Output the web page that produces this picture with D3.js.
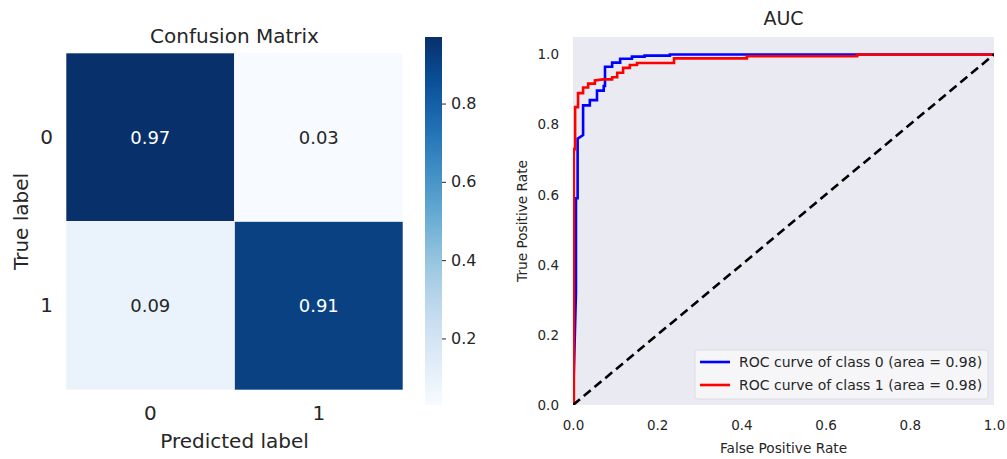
<!DOCTYPE html>
<html>
<head>
<meta charset="utf-8">
<script src="https://cdn.jsdelivr.net/npm/d3@7"></script>
<style>
  body { margin: 0; background: #fff; }
  svg { font-family: "DejaVu Sans", sans-serif; }
</style>
</head>
<body>
<svg id="fig" width="1007" height="459"></svg>
<script>
// confusion matrix (rows = true label, cols = predicted label)
const classes = ["0", "1"];
const matrix = [[0.97, 0.03], [0.09, 0.91]];
const cbarTicks = [0.2, 0.4, 0.6, 0.8];

// ROC curves
const fpr0 = [0, 0.007, 0.007, 0.011, 0.011, 0.024, 0.024, 0.04, 0.04, 0.057, 0.057, 0.073, 0.073, 0.076, 0.076, 0.093, 0.093, 0.112, 0.112, 0.14, 0.14, 0.17, 0.17, 0.23, 0.23, 1.0];
const tpr0 = [0, 0.32, 0.59, 0.59, 0.76, 0.77, 0.855, 0.855, 0.87, 0.87, 0.897, 0.897, 0.91, 0.91, 0.965, 0.965, 0.977, 0.977, 0.988, 0.988, 0.994, 0.994, 0.997, 0.997, 1.0, 1.0];
const fpr1 = [0, 0.002, 0.002, 0.005, 0.005, 0.012, 0.012, 0.024, 0.024, 0.036, 0.036, 0.052, 0.052, 0.071, 0.093, 0.093, 0.105, 0.105, 0.119, 0.119, 0.135, 0.135, 0.152, 0.152, 0.24, 0.24, 0.413, 0.413, 0.675, 0.675, 1.0];
const tpr1 = [0, 0, 0.73, 0.73, 0.85, 0.85, 0.89, 0.89, 0.906, 0.906, 0.917, 0.917, 0.926, 0.929, 0.929, 0.935, 0.935, 0.948, 0.948, 0.962, 0.962, 0.97, 0.97, 0.976, 0.976, 0.989, 0.989, 0.995, 0.995, 1.0, 1.0];
const rocLabels = ["ROC curve of class 0 (area = 0.98)", "ROC curve of class 1 (area = 0.98)"];
const rocColors = ["#0000ff", "#ff0000"];
const rocTicks = [0, 0.2, 0.4, 0.6, 0.8, 1.0];

const svg = d3.select("#fig");
const textColor = "#262626";

// ---------- confusion matrix ----------
const hm = {left: 66, top: 53, size: 337};
const cells = [];
matrix.forEach((row, i) => row.forEach((v, j) => cells.push({row: i, col: j, value: v})));
const vmin = d3.min(cells, d => d.value), vmax = d3.max(cells, d => d.value);

const xband = d3.scaleBand().domain(classes).range([hm.left, hm.left + hm.size]);
const yband = d3.scaleBand().domain(classes).range([hm.top, hm.top + hm.size]);
const color = d3.scaleSequential(d3.interpolateBlues).domain([vmin, vmax]);

const heat = svg.append("g");
heat.selectAll("rect").data(cells).enter()
    .append("rect")
    .attr("x", d => xband(classes[d.col]))
    .attr("y", d => yband(classes[d.row]))
    .attr("width", xband.bandwidth())
    .attr("height", yband.bandwidth())
    .attr("fill", d => color(d.value))
    .attr("stroke", "#ffffff")
    .attr("stroke-width", 0.6);

heat.selectAll("text.val").data(cells).enter()
    .append("text")
    .attr("class", "val")
    .attr("x", d => xband(classes[d.col]) + xband.bandwidth() / 2)
    .attr("y", d => yband(classes[d.row]) + yband.bandwidth() / 2)
    .attr("dy", "0.36em")
    .attr("text-anchor", "middle")
    .attr("font-size", "18px")
    .attr("fill", d => (d.value - vmin) / (vmax - vmin) > 0.6 ? "#ffffff" : textColor)
    .text(d => d.value.toFixed(2));

svg.append("g")
    .attr("transform", `translate(0, ${hm.top + hm.size})`)
    .call(d3.axisBottom(xband).tickSize(0).tickPadding(16))
    .call(g => g.select(".domain").remove())
    .selectAll("text").attr("font-size", "20px").attr("fill", textColor).attr("font-family", "DejaVu Sans");

svg.append("g")
    .attr("transform", `translate(${hm.left}, 0)`)
    .call(d3.axisLeft(yband).tickSize(0).tickPadding(13))
    .call(g => g.select(".domain").remove())
    .selectAll("text").attr("font-size", "20px").attr("fill", textColor).attr("font-family", "DejaVu Sans");

svg.append("text")
    .attr("x", hm.left + hm.size / 2).attr("y", 43)
    .attr("text-anchor", "middle").attr("font-size", "20px").attr("fill", textColor)
    .text("Confusion Matrix");

svg.append("text")
    .attr("x", hm.left + hm.size / 2).attr("y", 448)
    .attr("text-anchor", "middle").attr("font-size", "20px").attr("fill", textColor)
    .text("Predicted label");

svg.append("text")
    .attr("transform", `translate(28, ${hm.top + hm.size / 2}) rotate(-90)`)
    .attr("text-anchor", "middle").attr("font-size", "20px").attr("fill", textColor)
    .text("True label");

// colorbar
const cb = {left: 425, width: 17, top: 37, bottom: 405};
const cscale = d3.scaleLinear().domain([vmin, vmax]).range([cb.bottom, cb.top]);
const defs = svg.append("defs");
const grad = defs.append("linearGradient").attr("id", "cbar")
    .attr("x1", "0").attr("y1", "1").attr("x2", "0").attr("y2", "0");
d3.range(0, 1.0001, 0.05).forEach(t => {
  grad.append("stop").attr("offset", t).attr("stop-color", d3.interpolateBlues(t));
});
svg.append("rect")
    .attr("x", cb.left).attr("y", cb.top)
    .attr("width", cb.width).attr("height", cb.bottom - cb.top)
    .attr("fill", "url(#cbar)");
svg.append("g")
    .attr("transform", `translate(${cb.left + cb.width}, 0)`)
    .call(d3.axisRight(cscale).tickValues(cbarTicks).tickFormat(d3.format(".1f")).tickSize(4).tickPadding(5))
    .call(g => g.select(".domain").remove())
    .call(g => g.selectAll("line").attr("stroke", textColor))
    .selectAll("text").attr("font-size", "16px").attr("fill", textColor).attr("font-family", "DejaVu Sans");

// ---------- ROC ----------
const roc = {left: 573, right: 994, top: 37, bottom: 405};
const x = d3.scaleLinear().domain([0, 1]).range([roc.left, roc.right]);
const y = d3.scaleLinear().domain([0, 1.05]).range([roc.bottom, roc.top]);

svg.append("rect")
    .attr("x", roc.left).attr("y", roc.top)
    .attr("width", roc.right - roc.left).attr("height", roc.bottom - roc.top)
    .attr("fill", "#eaeaf2");

defs.append("clipPath").attr("id", "rocclip").append("rect")
    .attr("x", roc.left).attr("y", roc.top)
    .attr("width", roc.right - roc.left).attr("height", roc.bottom - roc.top);

const plot = svg.append("g").attr("clip-path", "url(#rocclip)");
const line = d3.line().x(d => x(d[0])).y(d => y(d[1]));

const series = [d3.zip(fpr0, tpr0), d3.zip(fpr1, tpr1)];
plot.selectAll("path.roc").data(series).enter()
    .append("path")
    .attr("class", "roc")
    .attr("d", line)
    .attr("fill", "none")
    .attr("stroke", (d, i) => rocColors[i])
    .attr("stroke-width", 2.6);

plot.append("path")
    .attr("d", line([[0, 0], [1, 1]]))
    .attr("fill", "none")
    .attr("stroke", "#000")
    .attr("stroke-width", 2.6)
    .attr("stroke-dasharray", "9,5");

svg.append("g")
    .attr("transform", `translate(0, ${roc.bottom})`)
    .call(d3.axisBottom(x).tickValues(rocTicks).tickFormat(d3.format(".1f")).tickSize(0).tickPadding(15))
    .call(g => g.select(".domain").remove())
    .selectAll("text").attr("font-size", "13.5px").attr("fill", textColor).attr("font-family", "DejaVu Sans");

svg.append("g")
    .attr("transform", `translate(${roc.left}, 0)`)
    .call(d3.axisLeft(y).tickValues(rocTicks).tickFormat(d3.format(".1f")).tickSize(0).tickPadding(14))
    .call(g => g.select(".domain").remove())
    .selectAll("text").attr("font-size", "13.5px").attr("fill", textColor).attr("font-family", "DejaVu Sans");

svg.append("text")
    .attr("x", (roc.left + roc.right) / 2).attr("y", 25)
    .attr("text-anchor", "middle").attr("font-size", "19px").attr("fill", textColor)
    .text("AUC");

svg.append("text")
    .attr("x", (roc.left + roc.right) / 2).attr("y", 453)
    .attr("text-anchor", "middle").attr("font-size", "13.7px").attr("fill", textColor)
    .text("False Positive Rate");

svg.append("text")
    .attr("transform", `translate(527, ${(roc.top + roc.bottom) / 2}) rotate(-90)`)
    .attr("text-anchor", "middle").attr("font-size", "13.7px").attr("fill", textColor)
    .text("True Positive Rate");

// legend
const lg = svg.append("g").attr("transform", "translate(695, 350)");
lg.append("rect")
    .attr("width", 293).attr("height", 49).attr("rx", 3)
    .attr("fill", "#f6f6f9").attr("stroke", "#d8d8df").attr("stroke-width", 0.8);
rocLabels.forEach((lab, i) => {
  const ly = 12 + i * 23;
  lg.append("line")
      .attr("x1", 5).attr("x2", 35).attr("y1", ly).attr("y2", ly)
      .attr("stroke", rocColors[i]).attr("stroke-width", 2.6);
  lg.append("text")
      .attr("x", 44).attr("y", ly).attr("dy", "0.36em")
      .attr("font-size", "14px").attr("fill", textColor)
      .text(lab);
});
</script>
</body>
</html>
